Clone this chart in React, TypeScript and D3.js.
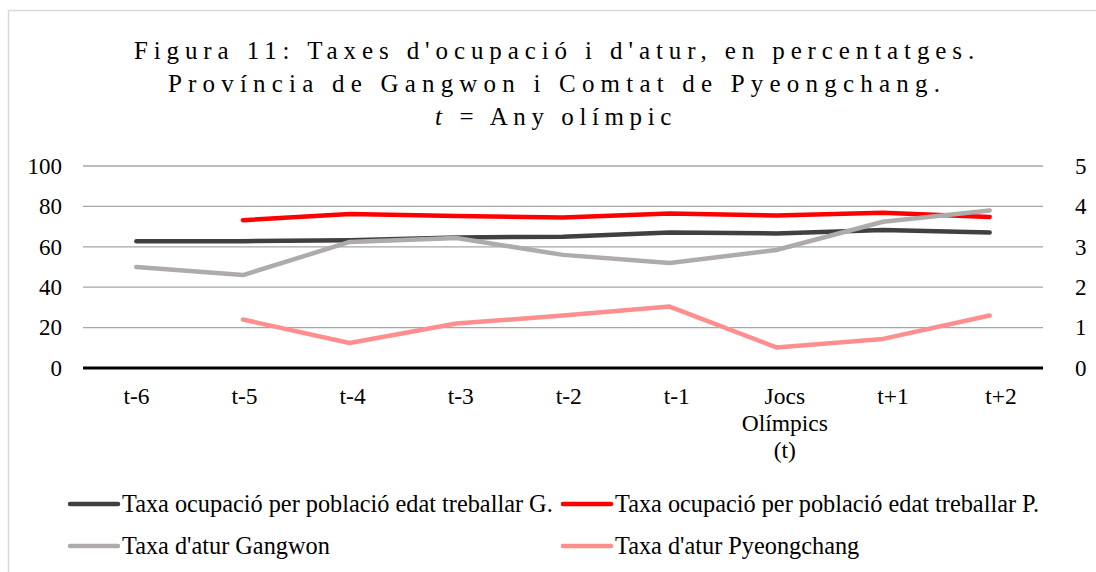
import React, { useRef, useEffect } from "react";
import * as d3 from "d3";

const categories = ["t-6", "t-5", "t-4", "t-3", "t-2", "t-1", "Jocs\nOlímpics\n(t)", "t+1", "t+2"];
const occupacioG = [62.8, 62.8, 63.2, 64.6, 65.0, 67.1, 66.6, 68.3, 67.1];
const occupacioP = [null, 73.2, 76.2, 75.2, 74.5, 76.5, 75.5, 76.8, 74.8];
const aturGangwon = [2.5, 2.3, 3.12, 3.22, 2.8, 2.6, 2.92, 3.62, 3.9];
const aturPyeongchang = [null, 1.2, 0.62, 1.1, 1.3, 1.52, 0.51, 0.72, 1.3];
const leftTicks = [0, 20, 40, 60, 80, 100];
const rightTicks = [0, 1, 2, 3, 4, 5];
const titleLines = [
  "Figura 11: Taxes d'ocupació i d'atur, en percentatges.",
  "Província de Gangwon i Comtat de Pyeongchang.",
];

const series = [
  { name: "Taxa ocupació per població edat treballar G.", values: occupacioG, axis: "left", color: "#404040" },
  { name: "Taxa ocupació per població edat treballar P.", values: occupacioP, axis: "left", color: "#ff0000" },
  { name: "Taxa d'atur Gangwon", values: aturGangwon, axis: "right", color: "#afabab" },
  { name: "Taxa d'atur Pyeongchang", values: aturPyeongchang, axis: "right", color: "#ff8f8f" },
];

const W = 1096;
const H = 572;
const FONT = "'Liberation Serif', 'Times New Roman', serif";

const App = () => {
  const svgRef = useRef<SVGSVGElement>(null);

  useEffect(() => {
    const svg = d3.select(svgRef.current);
    svg.selectAll("*").remove();

    const left = 83;
    const right = 1043;
    const top = 166;
    const bottom = 368;

    // outer frame
    svg.append("rect")
      .attr("x", 8.5).attr("y", 10.5)
      .attr("width", W).attr("height", H)
      .attr("fill", "#fff").attr("stroke", "#d9d9d9").attr("stroke-width", 1.5);

    // title
    const title = svg.append("text")
      .attr("text-anchor", "middle")
      .attr("font-family", FONT)
      .attr("font-size", 25)
      .attr("fill", "#000");
    titleLines.forEach((l, i) => {
      title.append("tspan")
        .attr("x", 557).attr("y", 59 + i * 33)
        .attr("letter-spacing", i === 0 ? 5.9 : 6.2)
        .text(l);
    });
    const t3 = title.append("tspan").attr("x", 556).attr("y", 125).attr("letter-spacing", 5.6);
    t3.append("tspan").attr("font-style", "italic").text("t");
    t3.append("tspan").text(" = Any olímpic");

    const x = d3.scaleBand().domain(categories).range([left, right]);
    // the category labels sit on a slightly wider spacing than the points
    const xLabel = d3.scaleBand().domain(categories).range([82.5, 1055]);
    const yL = d3.scaleLinear().domain([0, 100]).range([bottom, top]);
    const yR = d3.scaleLinear().domain([0, 5]).range([bottom, top]);

    // gridlines
    svg.append("g")
      .selectAll("line")
      .data(leftTicks.filter((d) => d > 0))
      .enter()
      .append("line")
      .attr("x1", left).attr("x2", right)
      .attr("y1", (d) => yL(d)).attr("y2", (d) => yL(d))
      .attr("stroke", "#a6a6a6").attr("stroke-width", 1.3);

    // left axis labels
    const gL = svg.append("g")
      .attr("transform", `translate(${left - 21},0)`)
      .call(d3.axisLeft(yL).tickValues(leftTicks).tickSize(0).tickPadding(0));
    gL.select(".domain").remove();
    gL.selectAll("text")
      .attr("font-family", FONT).attr("font-size", 23).attr("fill", "#000");

    const gR = svg.append("g")
      .attr("transform", `translate(${right + 32},0)`)
      .call(d3.axisRight(yR).tickValues(rightTicks).tickFormat(d3.format("d")).tickSize(0).tickPadding(0));
    gR.select(".domain").remove();
    gR.selectAll("text")
      .attr("font-family", FONT).attr("font-size", 23).attr("fill", "#000");

    // category labels
    const cat = svg.append("g")
      .selectAll("text")
      .data(categories)
      .enter()
      .append("text")
      .attr("text-anchor", "middle")
      .attr("font-family", FONT)
      .attr("font-size", 23.5)
      .attr("fill", "#000");
    cat.each(function (d) {
      const cx = (xLabel(d) as number) + xLabel.bandwidth() / 2;
      d.split("\n").forEach((line, i) => {
        d3.select(this).append("tspan").attr("x", cx).attr("y", 404 + i * 27).text(line);
      });
    });

    // series lines
    series.forEach((s) => {
      const yS = s.axis === "left" ? yL : yR;
      const line = d3.line<number | null>()
        .defined((v) => v !== null)
        .x((_, i) => (x(categories[i]) as number) + x.bandwidth() / 2)
        .y((v) => yS(v as number));
      svg.append("path")
        .datum(s.values)
        .attr("d", line)
        .attr("fill", "none")
        .attr("stroke", s.color)
        .attr("stroke-width", 4.5)
        .attr("stroke-linecap", "round")
        .attr("stroke-linejoin", "round");
    });

    // zero line
    svg.append("line")
      .attr("x1", left).attr("x2", right)
      .attr("y1", yL(0)).attr("y2", yL(0))
      .attr("stroke", "#000").attr("stroke-width", 3);

    // legend
    const legendPos = [
      { x: 70, y: 504 },
      { x: 563, y: 504 },
      { x: 70, y: 546 },
      { x: 563, y: 546 },
    ];
    const lg = svg.append("g")
      .selectAll("g")
      .data(series)
      .enter()
      .append("g")
      .attr("transform", (_, i) => `translate(${legendPos[i].x},${legendPos[i].y})`);
    lg.append("line")
      .attr("x1", 0).attr("x2", 48).attr("y1", 0).attr("y2", 0)
      .attr("stroke", (d) => d.color).attr("stroke-width", 4.5).attr("stroke-linecap", "round");
    lg.append("text")
      .attr("x", 52).attr("y", 7.5)
      .attr("font-family", FONT).attr("font-size", 24.3).attr("fill", "#000")
      .text((d) => d.name);
  }, []);

  return (
    <svg
      ref={svgRef}
      width={W}
      height={H}
      style={{ position: "absolute", left: 0, top: 0, display: "block" }}
    ></svg>
  );
};

export default App;
